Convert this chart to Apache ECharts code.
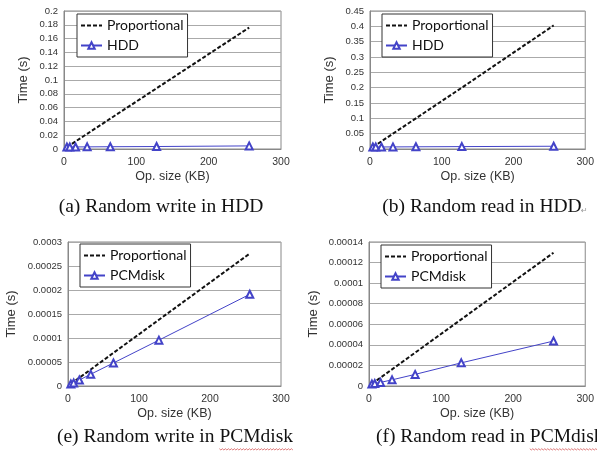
<!DOCTYPE html>
<html>
<head>
<meta charset="utf-8">
<script src="https://cdn.jsdelivr.net/npm/echarts@6/dist/echarts.min.js"></script>
<style>
html,body{margin:0;padding:0;background:#fff;}
#c{width:597px;height:456px;}
</style>
</head>
<body>
<div id="c"></div>
<script>
// ---- data ----
const opSizes = [4, 8, 16, 32, 64, 128, 256];
const xTicks = [0, 100, 200, 300];

const propWriteHDD = [0.0028, 0.0055, 0.011, 0.022, 0.044, 0.088, 0.176];
const hddWrite     = [0.0028, 0.0029, 0.0030, 0.0031, 0.0033, 0.0036, 0.0045];

const propReadHDD  = [0.0063, 0.0126, 0.025, 0.050, 0.100, 0.200, 0.403];
const hddRead      = [0.0063, 0.0064, 0.0066, 0.0068, 0.0072, 0.0078, 0.0090];

const propWritePCM = [4.3e-6, 8.6e-6, 1.72e-5, 3.45e-5, 6.9e-5, 1.38e-4, 2.76e-4];
const pcmWrite     = [4.3e-6, 6.5e-6, 1.25e-5, 2.45e-5, 4.8e-5, 9.55e-5, 1.91e-4];

const propReadPCM  = [2.03e-6, 4.05e-6, 8.1e-6, 1.62e-5, 3.24e-5, 6.48e-5, 1.296e-4];
const pcmRead      = [2.0e-6, 2.5e-6, 3.5e-6, 6.0e-6, 1.13e-5, 2.25e-5, 4.37e-5];

const yMax = [0.2, 0.45, 0.0003, 0.00014];
const yStep = [0.02, 0.05, 0.00005, 0.00002];

const captionPrefixes = ['(a) Random write in HDD', '(b) Random read in HDD', '(e) Random write in ', '(f) Random read in '];
const captionWords = ['', '', 'PCMdisk', 'PCMdisk'];
const deviceNames = ['HDD', 'HDD', 'PCMdisk', 'PCMdisk'];

// ---- layout ----
const grids = [
  {left: 64, top: 11, width: 217, height: 138},
  {left: 370, top: 11, width: 216, height: 138},
  {left: 68, top: 242, width: 213, height: 144},
  {left: 369, top: 242, width: 217, height: 144}
];
const yNameGap = [34, 34, 50, 49];
const legendPos = [{left: 77, top: 14}, {left: 382, top: 14}, {left: 80, top: 244}, {left: 381, top: 245}];

const blue = '#4343c8';
const pairs = [
  [propWriteHDD, hddWrite],
  [propReadHDD, hddRead],
  [propWritePCM, pcmWrite],
  [propReadPCM, pcmRead]
];

const xAxis = [], yAxis = [], series = [], legend = [];
grids.forEach((g, i) => {
  xAxis.push({
    type: 'value', gridIndex: i, min: xTicks[0], max: xTicks[xTicks.length - 1], interval: 100,
    name: 'Op. size (KB)', nameLocation: 'middle', nameGap: 21,
    nameTextStyle: {fontFamily: 'Liberation Sans', fontSize: 12.5, color: '#333'},
    axisLine: {show: true, lineStyle: {color: '#888'}},
    axisTick: {show: false},
    axisLabel: {fontFamily: 'Liberation Sans', fontSize: 10.5, color: '#333', margin: 8},
    splitLine: {show: false}
  });
  yAxis.push({
    type: 'value', gridIndex: i, min: 0, max: yMax[i], interval: yStep[i],
    name: 'Time (s)', nameLocation: 'middle', nameGap: yNameGap[i], nameRotate: 90,
    nameTextStyle: {fontFamily: 'Liberation Sans', fontSize: 13, color: '#333'},
    axisLine: {show: true, lineStyle: {color: '#888'}},
    axisTick: {show: false},
    axisLabel: {fontFamily: 'Liberation Sans', fontSize: 9.5, color: '#333', margin: 6,
      formatter: v => String(+v.toFixed(7))},
    splitLine: {show: true, lineStyle: {color: '#aaa', width: 1}}
  });
  const [prop, dev] = pairs[i];
  series.push({
    name: 'Proportional', type: 'line', xAxisIndex: i, yAxisIndex: i,
    data: opSizes.map((x, k) => [x, prop[k]]),
    symbol: 'none', lineStyle: {color: '#111', width: 2, type: [4, 2]},
    itemStyle: {color: '#111'}, silent: true, animation: false, z: 3
  });
  series.push({
    name: deviceNames[i], type: 'line', xAxisIndex: i, yAxisIndex: i,
    data: opSizes.map((x, k) => [x, dev[k]]),
    symbol: 'emptyTriangle', symbolSize: 7,
    lineStyle: {color: blue, width: 1},
    itemStyle: {color: blue, borderColor: blue, borderWidth: 1},
    animation: false, z: 4
  });
  legend.push({
    data: [
      {name: 'Proportional', itemStyle: {opacity: 0}},
      {name: deviceNames[i], itemStyle: {borderWidth: 1}}
    ],
    orient: 'vertical', left: legendPos[i].left, top: legendPos[i].top,
    backgroundColor: '#fff', borderColor: '#333', borderWidth: 1,
    padding: [3, 4, 3, 3], itemGap: 3, itemWidth: 21, itemHeight: 8,
    textStyle: {fontFamily: 'Lato', fontSize: 14, color: '#111', lineHeight: 17},
    selectedMode: false, z: 10
  });
});

// captions
const capFont = 19.5;
const capFamily = 'Liberation Serif';
const ctx = document.createElement('canvas').getContext('2d');
ctx.font = capFont + 'px "' + capFamily + '"';
const captionPos = [
  {x: 161, y: 207, align: 'center'},
  {x: 482, y: 207, align: 'center'},
  {x: 175, y: 437, align: 'center'},
  {x: 376, y: 437, align: 'left'}
];
const graphic = [];
captionPrefixes.forEach((p, i) => {
  const full = p + captionWords[i];
  const cp = captionPos[i];
  graphic.push({
    type: 'text', x: cp.x, y: cp.y,
    style: {text: full, fontFamily: capFamily, fontSize: capFont, fill: '#111',
      align: cp.align, verticalAlign: 'middle'}
  });
  if (captionWords[i]) {
    const wFull = ctx.measureText(full).width;
    const wPre = ctx.measureText(p).width;
    const startX = cp.align === 'center' ? cp.x - wFull / 2 : cp.x;
    const x0 = startX + wPre, x1 = startX + wFull;
    const pts = [];
    let k = 0;
    for (let x = x0; x <= x1; x += 1.5, k++) pts.push([x, cp.y + 12 + (k % 2 ? 1 : -0.3)]);
    graphic.push({type: 'polyline', shape: {points: pts},
      style: {stroke: '#d65a5a', lineWidth: 0.8, fill: null}});
  }
});
graphic.push({type: 'text', x: 581, y: 211,
  style: {text: '\u21B5', fontFamily: 'DejaVu Sans', fontSize: 8, fill: '#999', verticalAlign: 'middle'}});

const chart = echarts.init(document.getElementById('c'), null, {renderer: 'canvas'});
chart.setOption({
  backgroundColor: '#fff',
  animation: false,
  grid: grids.map(g => Object.assign({show: true, borderColor: '#888', borderWidth: 1, containLabel: false}, g)),
  xAxis, yAxis, series, legend, graphic
});
</script>
</body>
</html>
